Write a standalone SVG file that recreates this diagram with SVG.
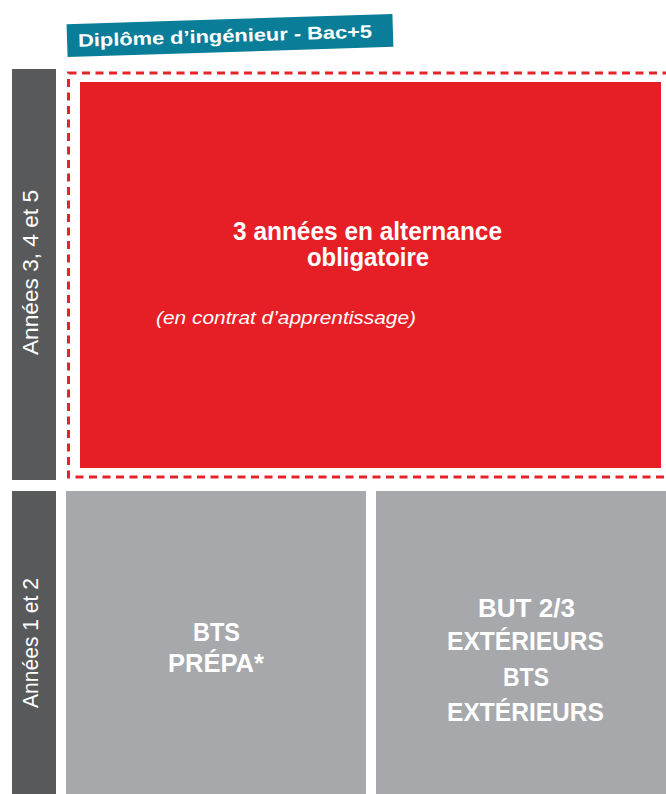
<svg xmlns="http://www.w3.org/2000/svg" width="666" height="794" viewBox="0 0 666 794">
<style>
.bar{fill:#58595b}
.grey{fill:#a7a8ab}
.vt{font-family:"Liberation Sans",Arial,sans-serif;font-size:22px;fill:#ffffff;text-anchor:middle}
.bt{font-family:"Liberation Sans",Arial,sans-serif;font-weight:bold;fill:#ffffff;text-anchor:middle;font-size:25px}
</style>
<rect width="666" height="794" fill="#ffffff"/>
<g id="title" transform="rotate(-1.8 230 35.5)">
<rect x="67" y="19" width="326" height="33" fill="#0a7e98"/>
<text x="78" y="42" font-family="Liberation Sans,Arial,sans-serif" font-weight="bold" font-size="18" fill="#ffffff" textLength="294" lengthAdjust="spacingAndGlyphs">Diplôme d’ingénieur - Bac+5</text>
</g>
<g id="bar-years-345">
<rect class="bar" x="12" y="69" width="44" height="411"/>
<text class="vt" transform="translate(38 272.5) rotate(-90)" textLength="165" lengthAdjust="spacingAndGlyphs">Années 3, 4 et 5</text>
</g>
<g id="bar-years-12">
<rect class="bar" x="12" y="491" width="44" height="303"/>
<text class="vt" transform="translate(38 643) rotate(-90)" textLength="130" lengthAdjust="spacingAndGlyphs">Années 1 et 2</text>
</g>
<g id="alternance">
<rect x="68.5" y="73" width="602" height="404" fill="none" stroke="#e52329" stroke-width="3" stroke-dasharray="8 5.5"/>
<rect x="80" y="82" width="581" height="386" fill="#e61f27"/>
<text class="bt" x="367.5" y="240" font-size="22" textLength="269" lengthAdjust="spacingAndGlyphs">3 années en alternance</text>
<text class="bt" x="368" y="266" font-size="22" textLength="122" lengthAdjust="spacingAndGlyphs">obligatoire</text>
<text x="286" y="324" font-family="Liberation Sans,Arial,sans-serif" font-style="italic" font-size="19" fill="#ffffff" text-anchor="middle" textLength="260" lengthAdjust="spacingAndGlyphs">(en contrat d’apprentissage)</text>
</g>
<g id="bts-prepa">
<rect class="grey" x="66" y="491" width="300" height="303"/>
<text class="bt" x="216.5" y="641" textLength="47" lengthAdjust="spacingAndGlyphs">BTS</text>
<text class="bt" x="216" y="672" textLength="96" lengthAdjust="spacingAndGlyphs">PRÉPA*</text>
</g>
<g id="exterieurs">
<rect class="grey" x="376" y="491" width="290" height="303"/>
<text class="bt" x="526.5" y="617" textLength="97" lengthAdjust="spacingAndGlyphs">BUT 2/3</text>
<text class="bt" x="525.5" y="650" textLength="157" lengthAdjust="spacingAndGlyphs">EXTÉRIEURS</text>
<text class="bt" x="526" y="686" textLength="46" lengthAdjust="spacingAndGlyphs">BTS</text>
<text class="bt" x="525.5" y="721" textLength="157" lengthAdjust="spacingAndGlyphs">EXTÉRIEURS</text>
</g>
</svg>
